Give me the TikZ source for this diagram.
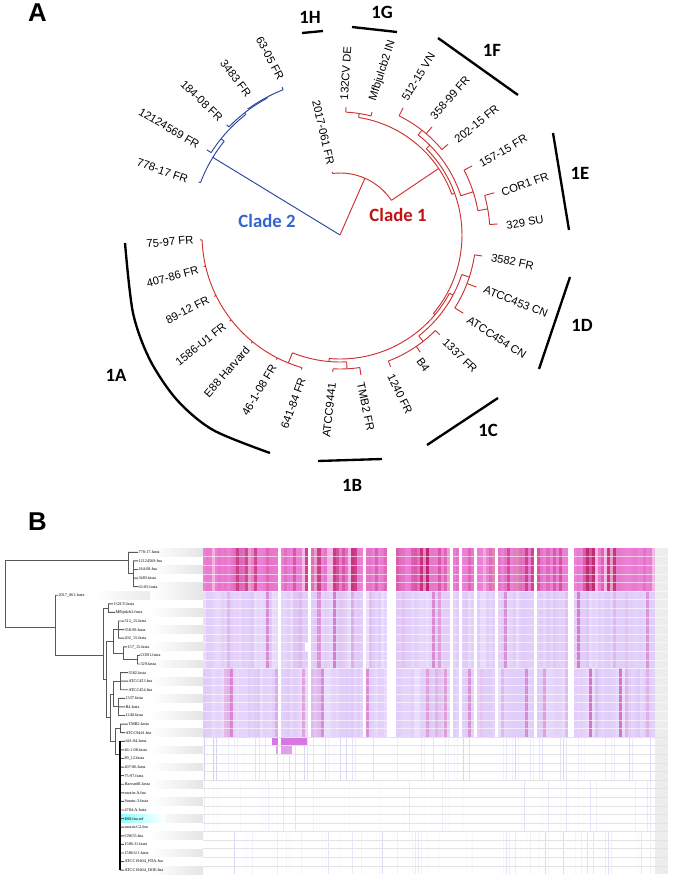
\documentclass[tikz,border=0pt]{standalone}
\usepackage{fontspec}
\setmainfont{Liberation Sans}
\newfontfamily\calfont{Carlito}
\newfontfamily\serfont{Liberation Serif}

\definecolor{treeRed}{RGB}{205,50,50}
\definecolor{treeBlue}{RGB}{40,70,160}
\definecolor{cladeRed}{RGB}{192,20,20}
\definecolor{cladeBlue}{RGB}{50,100,210}
\definecolor{hmPink}{RGB}{236,128,214}
\definecolor{hmDeep}{RGB}{190,35,105}
\definecolor{hmLav}{RGB}{224,204,250}
\definecolor{hmMag}{RGB}{205,70,175}
\definecolor{hmVio}{RGB}{214,120,226}
\definecolor{hmLine}{RGB}{175,170,240}

\tikzset{
  leaflab/.style={font=\fontsize{9.6}{11}\selectfont, inner sep=0pt},
  grouplab/.style={font=\calfont\bfseries\fontsize{16}{18}\selectfont, inner sep=0pt},
  cladelab/.style={font=\calfont\bfseries\fontsize{16}{18}\selectfont, inner sep=0pt},
  panlab/.style={font=\bfseries\fontsize{22}{24}\selectfont, inner sep=0pt},
  groupbar/.style={line width=2pt, black},
  redbr/.style={treeRed, line width=0.8pt},
  bluebr/.style={treeBlue, line width=0.8pt},
  rectbr/.style={black!65, line width=0.8pt},
  rowlab/.style={font=\serfont\fontsize{3.6}{4}\selectfont, inner sep=0.3pt, anchor=west}
}

\begin{document}
\begin{tikzpicture}[x=0.3mm,y=-0.3mm]
  \fill[white] (0,0) rectangle (673,881);
  \useasboundingbox (0,0) rectangle (673,881);

  \node[panlab] (panA) at (37.5,12.5) {A};
  \node[panlab] (panB) at (37.5,521.5) {B};

  % circular tree, centred on the root
  \begin{scope}[shift={(340,235)},yscale=-1]
    \foreach \ra/\rb/\an in {0/149/148.6, 149/151/159.4, 149/153/141, 153/158/147.4, 153/155/128,
        155/158/135.8, 155/156/118, 156/157/126, 156/159/111.4}
      \draw[bluebr] (\an:\ra) -- (\an:\rb);
    \foreach \rr/\aa/\ab in {149/159.4/141, 153/147.4/128, 155/135.8/118, 156/126/111.4}
      \draw[bluebr] (\aa:\rr) arc[start angle=\aa, end angle=\ab, radius=\rr];
    \foreach \ra/\rb/\an in {0/62/66.3, 62/63.5/97, 62/119/34, 119/123/81, 123/128/87.3, 123/127/75.4,
        119/122/20, 122/127/45, 127/133/52, 133/142/63.6, 133/142/49.6, 133/141/40,
        127/140/18, 140/149/27.6, 140/150/10, 150/160/15.3, 150/158/4,
        122/124/-40, 124/128/-28, 128/136/-18, 136/143.5/-8.4, 136/146/-20.9, 136/146/-32.4,
        128/135/-52, 135/141/-45, 135/142/-55.6, 135/141/-69,
        124/127/-95, 127/134/-87, 134/141.6/-81.5, 134/137/-93, 127/138/-112,
        138/140/-106, 138/140/-117, 138/140/-129.4, 138/140/-142, 138/140/-154, 138/140/-167, 138/140/-178}
      \draw[redbr] (\an:\ra) -- (\an:\rb);
    \foreach \rr/\aa/\ab in {62/97/34, 119/81/20, 123/87.3/75.4, 122/45/-40, 127/52/18, 133/63.6/40,
        140/27.6/10, 150/15.3/4, 124/-28/-95, 128/-18/-52, 136/-8.4/-32.4, 135/-45/-69,
        127/-87/-112, 134/-81.5/-93, 138/-106/-178}
      \draw[redbr] (\aa:\rr) arc[start angle=\aa, end angle=\ab, radius=\rr];
  \end{scope}

  % leaf labels
  \foreach \x/\y/\rot/\txt [count=\i] in {
      345.8/73.3/86/132CV DE, 382.5/70.8/72/Mfbjulcb2 IN, 418.3/76.7/59/512-15 VN,
      450/97.5/49/358-99 FR, 476.7/124.2/39/202-15 FR, 503.3/150.8/30/157-15 FR,
      525/184.2/20/COR1 FR, 525/222.5/10/329 SU, 512.5/261.7/-12/3582 FR,
      515.8/301.7/-22/ATCC453 CN, 496.7/337.5/-33/ATCC454 CN, 460/355.8/-44/1337 FR,
      423.3/365/-55/B4, 400/394.2/-64/1240 FR, 365.8/406.7/-78/TMB2 FR,
      329.2/410/84/ATCC9441, 293.3/403.3/70/641-84 FR, 259.2/390/59/46-1-08 FR,
      226.7/371.7/49/E88 Harvard, 200.8/344.2/39/1586-U1 FR, 187.5/310/27/89-12 FR,
      172.5/276.7/15/407-86 FR, 170/241.7/5/75-97 FR, 162.5/170.8/-19/778-17 FR,
      169.2/128.3/-31/12124569 FR, 201.7/100.8/-44/184-08 FR, 235.8/78.3/-53/3483 FR,
      270/58.3/-62/63-05 FR, 323.3/132.5/-77/2017-061 FR}
    \node[leaflab, rotate=\rot] (lf\i) at (\x,\y) {\txt};

  % groups
  \draw[groupbar] (302,33) -- (323,31);
  \node[grouplab] (g1H) at (310,17) {1H};
  \draw[groupbar] (352,27) -- (397,32);
  \node[grouplab] (g1G) at (382,12) {1G};
  \draw[groupbar] (438,38) -- (518,95);
  \node[grouplab] (g1F) at (492,50) {1F};
  \draw[groupbar] (553,133) -- (569,230);
  \node[grouplab] (g1E) at (580,173) {1E};
  \draw[groupbar] (570,277) -- (539,369);
  \node[grouplab] (g1D) at (582,325) {1D};
  \draw[groupbar] (498,398) -- (427,445);
  \node[grouplab] (g1C) at (488,430) {1C};
  \draw[groupbar] (318,461) -- (382,459);
  \node[grouplab] (g1B) at (352,485) {1B};
  \draw[groupbar] plot[smooth] coordinates {(125,243) (133,313) (150,360) (177,400) (213,430) (270,453)};
  \node[grouplab] (g1A) at (116,375) {1A};

  \node[cladelab, text=cladeBlue] (clade2) at (267,221) {Clade 2};
  \node[cladelab, text=cladeRed] (clade1) at (398,215) {Clade 1};

  % panel B, one unit of y per row
  \begin{scope}[shift={(0,543.71)},yscale=8.59]
    \foreach \r in {1,3,5,6,8,...,38}
      \fill[left color=white, right color=gray!20] (150,\r-0.45) rectangle (203,\r+0.45);
    \fill[left color=white, right color=gray!16] (93,5.55) rectangle (150,6.45);
    \fill[left color=cyan!45, right color=white] (120,31.55) rectangle (165,32.45);

    % heat map
    \pgfmathsetseed{1234}
    \foreach \c in {0,...,149}{
      \pgfmathsetmacro\xa{203+3.013*\c}
      \pgfmathsetmacro\xb{\xa+3.1}
      \pgfmathsetmacro\tmix{int(100*rnd^3)}
      \pgfmathsetmacro\tlt{int(100-45*(rnd<0.12))}
      \pgfmathsetmacro\mmixA{int(70*rnd^11)}
      \pgfmathsetmacro\mltA{int(100-35*rnd^2)}
      \pgfmathsetmacro\mmixB{int(70*rnd^11)}
      \pgfmathsetmacro\mltB{int(100-35*rnd^2)}
      \pgfmathsetmacro\lmixA{int(60*rnd^5)}
      \pgfmathsetmacro\lmixB{int(35*rnd^7)}
      \pgfmathsetmacro\lmixC{int(50*rnd^6)}
      \fill[hmDeep!\tmix!hmPink!\tlt!white] (\xa,0.5) rectangle (\xb,5.5);
      \fill[hmMag!\mmixA!hmLav!\mltA!white] (\xa,5.5) rectangle (\xb,14.5);
      \fill[hmMag!\mmixB!hmLav!\mltB!white] (\xa,14.5) rectangle (\xb,22.5);
      \draw[hmLine!\lmixA!white, line width=0.4pt] (\xa+1.5,22.5) -- (\xa+1.5,27.5);
      \draw[hmLine!\lmixB!white, line width=0.4pt] (\xa+1.5,27.5) -- (\xa+1.5,33.5);
      \draw[hmLine!\lmixC!white, line width=0.4pt] (\xa+1.5,33.5) -- (\xa+1.5,38.5);
    }
    \fill[hmVio] (272,22.5) rectangle (307,23.5);
    \fill[hmVio!70!white] (276,23.5) rectangle (292,24.5);
    \fill[white] (305,11.55) rectangle (311,12.45);
    \foreach \g in {25,35,53,61,62,63,82,85,90,97,110,121,122}
      \fill[white] ({203+3.013*\g},0.5) rectangle ({203+3.013*(\g+1)},38.5);
    \fill[gray!14] (655,0.5) rectangle (668,38.5);
    \foreach \i in {1,...,21}
      \draw[white, opacity=0.6, line width=0.3pt] (203,\i+0.5) -- (668,\i+0.5);
    \foreach \i in {22,...,37}
      \draw[gray!22, line width=0.3pt] (203,\i+0.5) -- (668,\i+0.5);

    % row labels
    \foreach \r/\lx/\txt in {1/138/778-17.fasta, 2/138/12124569.fna, 3/138/184-08.fna,
        4/138/3483.fasta, 5/138/63-05.fasta, 6/58/2017\_061.fasta, 7/113/132CV.fasta,
        8/115/Mfbjulcb2.fasta, 9/124/512\_15.fasta, 10/124/358-99.fasta, 11/124/202\_15.fasta,
        12/127/157\_15.fasta, 13/140/COR1.fasta, 14/140/329.fasta, 15/128/3582.fasta,
        16/128/ATCC453.fna, 17/128/ATCC454.fna, 18/125/1337.fasta, 19/125/B4.fasta,
        20/125/1240.fasta, 21/128/TMB2.fasta, 22/125/ATCC9441.fna, 23/125/641-84.fasta,
        24/124/46-1-08.fasta, 25/124/89\_12.fasta, 26/124/407-86.fasta, 27/124/75-97.fasta,
        28/124/HarvardE.fasta, 29/124/sorain-A.fna, 30/124/Sorain-3.fasta, 31/124/4784-A.fasta,
        32/124/E88.fna.ref, 33/124/sorain-C2.fna, 34/124/CN655.fna, 35/124/1586-J1.fasta,
        36/124/1586-U1.fasta, 37/124/ATCC19404\_FDA.fna, 38/124/ATCC19404\_DOE.fna}
      \node[rowlab] (b\r) at (\lx,\r) {\txt};

    % rectangular tree
    \foreach \r/\px in {1/128, 2/133, 3/133, 4/133, 5/133, 6/55, 7/108, 8/108, 9/118, 10/118,
        11/118, 12/123, 13/137, 14/137, 15/120, 16/120, 17/120, 18/118, 19/118, 20/118,
        21/120, 22/120, 23/120, 24/120, 25/120, 26/120, 27/120, 28/120, 29/120, 30/120,
        31/120, 32/120, 33/120, 34/120, 35/120, 36/120, 37/120, 38/120}
      \draw[rectbr] (\px,\r) -- (b\r.west);
    \draw[rectbr] (5,2) -- (5,9.8);
    \draw[rectbr] (5,2) -- (128,2) (128,1) -- (128,3.5) -- (133,3.5) (133,2) -- (133,5);
    \draw[rectbr] (5,9.8) -- (55,9.8) (55,6) -- (55,13) -- (103,13);
    \draw[rectbr] (103,7.5) -- (103,15.8) (103,7.5) -- (108,7.5) (108,7) -- (108,8);
    \draw[rectbr] (103,15.8) -- (106,15.8) (106,11.4) -- (106,20.25);
    \draw[rectbr] (106,11.4) -- (113,11.4) (113,10) -- (113,12.75) (113,10) -- (118,10) (118,9) -- (118,11);
    \draw[rectbr] (113,12.75) -- (123,12.75) (123,12) -- (123,13.5) -- (137,13.5) (137,13) -- (137,14);
    \draw[rectbr] (106,20.25) -- (110,20.25) (110,17.5) -- (110,23);
    \draw[rectbr] (110,17.5) -- (113,17.5) (113,16) -- (113,19) (113,16) -- (120,16) (120,15) -- (120,17);
    \draw[rectbr] (113,19) -- (118,19) (118,18) -- (118,20);
    \draw[rectbr] (110,23) -- (115,23) (115,21.5) -- (115,24.5) (115,21.5) -- (120,21.5) (120,21) -- (120,22);
    \draw[rectbr] (115,24.5) -- (120,24.5);
    \draw[black, line width=1pt] (120,23) -- (120,38);
  \end{scope}
\end{tikzpicture}
\end{document}
